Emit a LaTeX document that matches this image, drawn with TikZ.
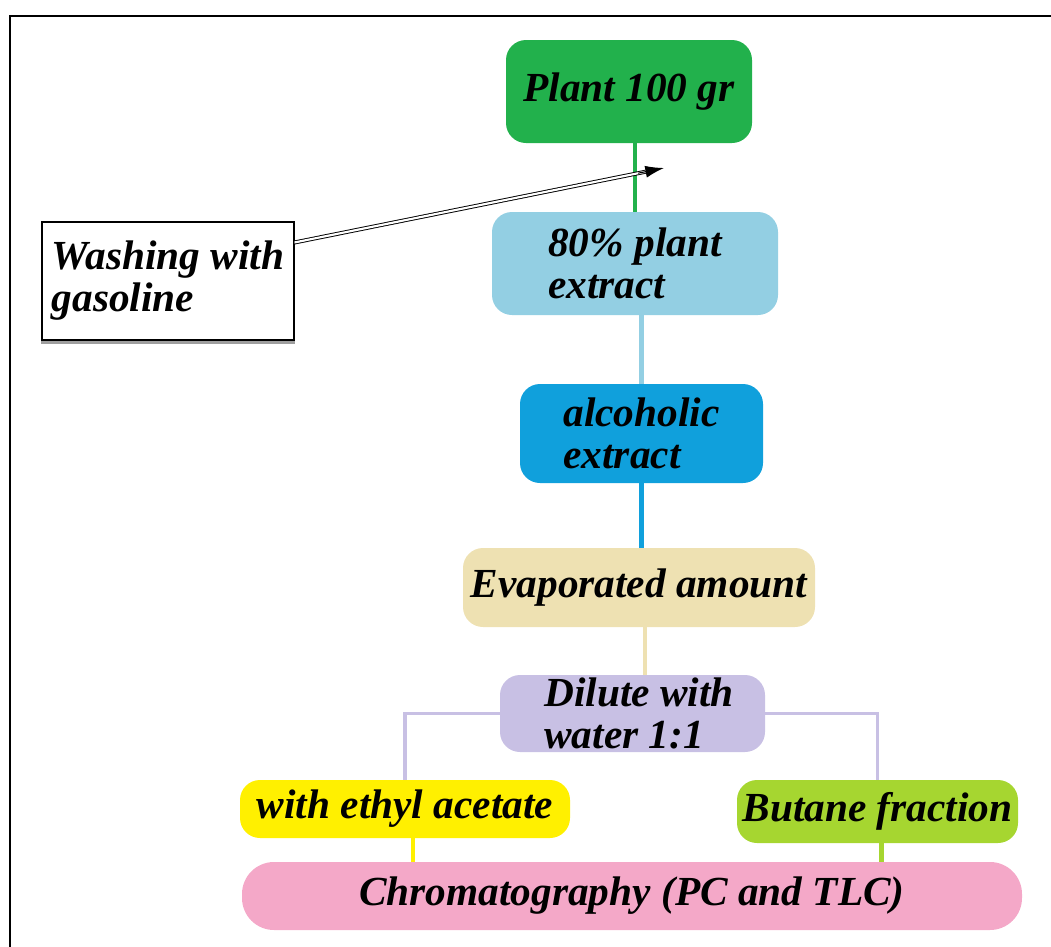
\documentclass[tikz,border=0pt]{standalone}
\usepackage{fontspec}
\setmainfont{Liberation Serif}
\usepackage{tikz}
\usetikzlibrary{arrows.meta,calc}

\definecolor{plantgreen}{RGB}{34,177,76}
\definecolor{extractblue}{RGB}{147,207,227}
\definecolor{alcblue}{RGB}{16,160,220}
\definecolor{evapbeige}{RGB}{238,225,178}
\definecolor{dilutelav}{RGB}{200,192,228}
\definecolor{ethylyellow}{RGB}{255,240,0}
\definecolor{butanegreen}{RGB}{166,214,48}
\definecolor{chromapink}{RGB}{244,168,200}

\begin{document}
\begin{tikzpicture}[x=0.75pt,y=0.75pt,yscale=-1,xscale=1,
    stage/.style={rounded corners=15pt, inner sep=0pt, align=left,
        font=\fontsize{31}{31.5}\selectfont\bfseries\itshape},
    link/.style={line width=3.5pt},
    dbl/.style={draw=black, double=white, double distance=1.6pt, line width=0.7pt}]
    %uncomment if require: \path (0,947);
    \useasboundingbox (0,0) rectangle (1051,947);

    %Frame
    \draw [line width=1.5pt]  (10,947) -- (10,16) -- (1051,16) ;

    % Stage Nodes
    \node [stage, fill=plantgreen, minimum width=184.5pt, minimum height=77.25pt] (plant) at (629,91.5) {Plant 100 gr};
    \node [stage, fill=extractblue, minimum width=214.5pt, minimum height=77.25pt] (ext80) at (635,263.5) {80\% plant\\extract};
    \node [stage, fill=alcblue, minimum width=182.25pt, minimum height=74.25pt] (alc) at (641.5,433.5) {alcoholic\\extract};
    \node [stage, fill=evapbeige, minimum width=264pt, minimum height=59.25pt] (evap) at (639,587.5) {Evaporated amount};
    \node [stage, fill=dilutelav, minimum width=198.75pt, minimum height=57.75pt] (dil) at (632.5,713.5) {\hspace*{10pt}Dilute with\\\hspace*{10pt}water 1:1};
    \node [stage, fill=ethylyellow, minimum width=247.5pt, minimum height=43.5pt] (ethyl) at (405,809) {with ethyl acetate};
    \node [stage, fill=butanegreen, minimum width=210.75pt, minimum height=47.25pt] (but) at (877.5,811.5) {Butane fraction};
    \node [stage, fill=chromapink, rounded corners=24pt, minimum width=585pt, minimum height=51pt] (chroma) at (632,896) {Chromatography (PC and TLC)};

    % Text Node
    \node [draw, line width=0.8pt, fill=white, inner sep=0pt, align=left, minimum width=189pt, minimum height=88.5pt,
        font=\fontsize{31}{31.5}\selectfont\bfseries\itshape] (wash) at (168,281) {Washing with\\gasoline};
    %Shadow line
    \draw [gray!75, line width=2pt]  ([yshift=1.6pt]wash.south west) -- ([yshift=1.6pt]wash.south east) ;

    %Straight Lines
    \draw [link, plantgreen]  (ext80.north |- plant.south) -- (ext80.north) ;
    \draw [link, extractblue]  (alc.north |- ext80.south) -- (alc.north) ;
    \draw [link, alcblue]  (alc.south) -- (alc.south |- evap.north) ;
    \draw [link, evapbeige]  ([xshift=4.5pt]evap.south) -- ([xshift=4.5pt]evap.south |- dil.north) ;
    \draw [link, dilutelav, line width=2.5pt]  (dil.west) -| (ethyl.north) ;
    \draw [link, dilutelav, line width=2.5pt]  (dil.east) -| (but.north) ;
    \draw [link, ethylyellow]  ([xshift=6pt]ethyl.south) -- ([xshift=6pt]ethyl.south |- chroma.north) ;
    \draw [link, butanegreen]  ([xshift=3pt]but.south) -- ([xshift=3pt]but.south |- chroma.north) ;

    %Arrow
    \coordinate (wstart) at ([yshift=15.75pt]wash.north east) ;
    \coordinate (tip) at (664,168) ;
    \draw [dbl]  (wstart) -- ($(wstart)!0.95!(tip)$) ;
    \draw [-{Latex[length=14pt,width=9pt]}, line width=0.8pt]  ($(wstart)!0.93!(tip)$) -- (tip) ;

\end{tikzpicture}
\end{document}
